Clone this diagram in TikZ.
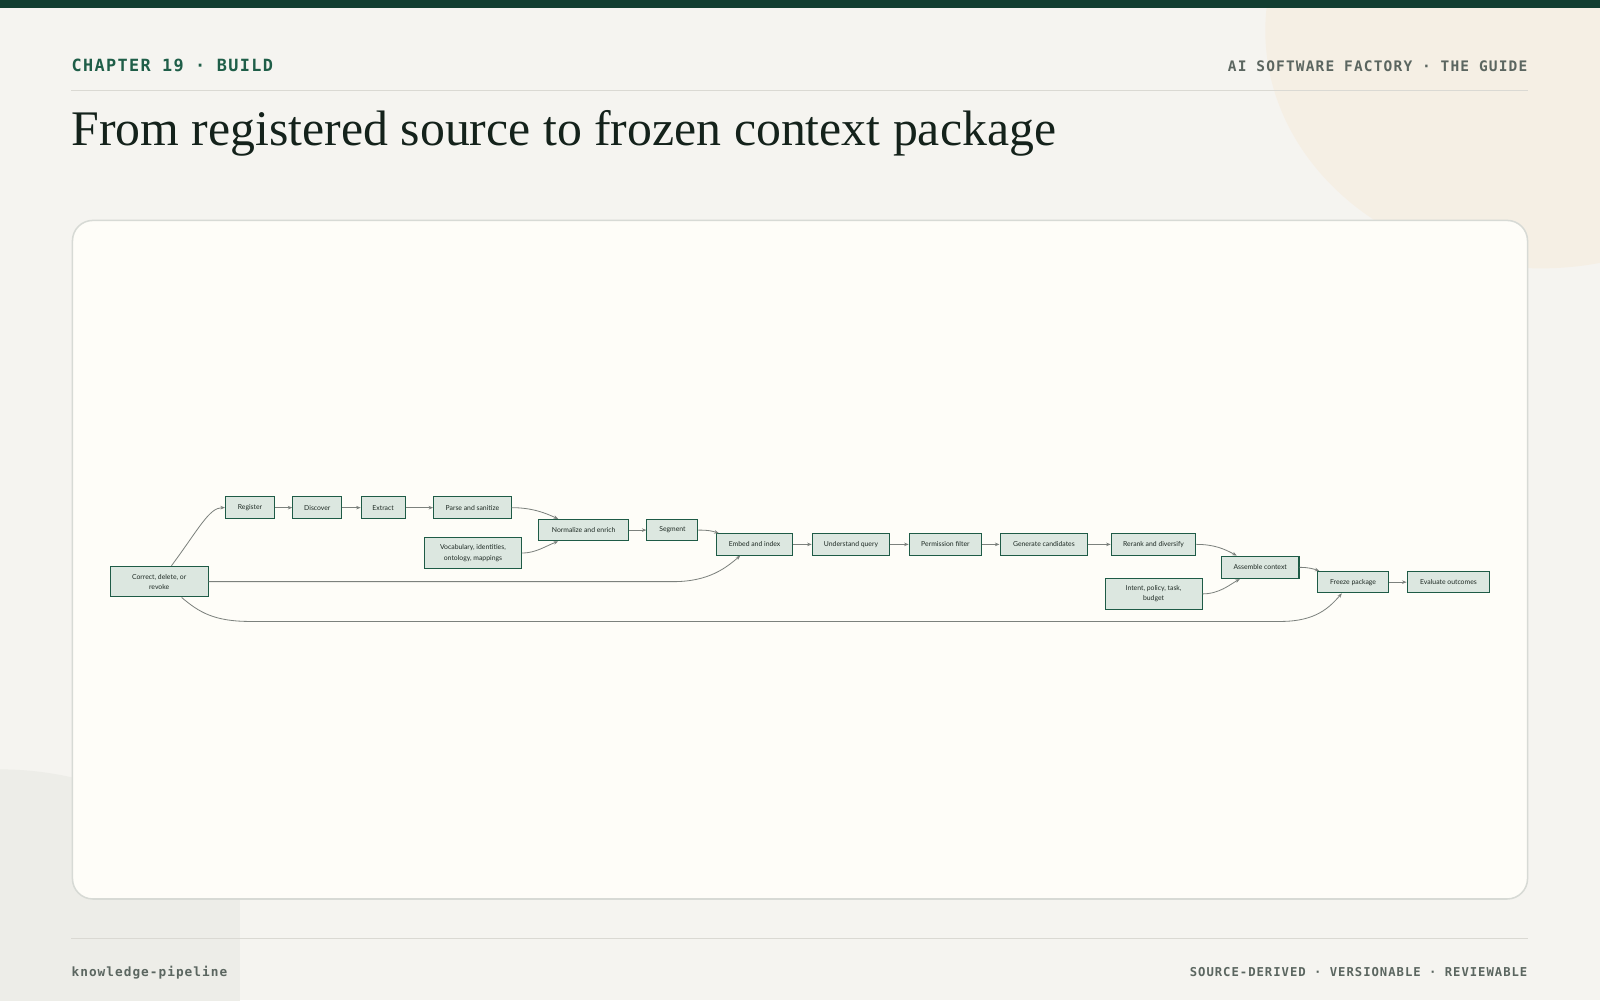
\documentclass[tikz,border=0pt]{standalone}
\usepackage{fontspec}
\usetikzlibrary{arrows.meta}
\newfontfamily\titlefont{Liberation Serif}
\newfontfamily\hdrfont{DejaVu Sans Mono}[LetterSpace=8]
\newfontfamily\boxfont{Lato}
\definecolor{pagebg}{HTML}{F5F4F0}
\definecolor{beigecol}{HTML}{F5EFE4}
\definecolor{blcol}{HTML}{EDEDE8}
\definecolor{topbar}{HTML}{123E31}
\definecolor{rulecol}{HTML}{DAD9D3}
\definecolor{cardfill}{HTML}{FEFDF8}
\definecolor{cardline}{HTML}{D7DAD5}
\definecolor{boxfill}{HTML}{DCE7E0}
\definecolor{boxline}{HTML}{1E5B46}
\definecolor{edgecol}{HTML}{7C817D}
\definecolor{titlecol}{HTML}{14221B}
\definecolor{chapcol}{HTML}{1F5E48}
\definecolor{graytext}{HTML}{5B6660}
\definecolor{boxtext}{HTML}{1E2A24}
\tikzset{
  stagebox/.style={draw=boxline, fill=boxfill, line width=1pt, inner sep=0pt,
    minimum height=21pt, align=center, text=boxtext,
    font=\boxfont\fontsize{6.7}{10}\selectfont},
  tallbox/.style={stagebox, minimum height=30pt},
  edge/.style={draw=edgecol, line width=0.8pt, -{Stealth[length=4.5pt,width=3.5pt]}},
  hdr/.style={inner sep=0pt, font=\hdrfont\bfseries},
}
\begin{document}
\begin{tikzpicture}[x=1pt,y=-1pt]
% background
\fill[pagebg] (0,0) rectangle (1568,980);
\useasboundingbox (0,0) rectangle (1568,980);
\fill[beigecol] (1510,30) ellipse [x radius=270pt, y radius=233pt];
\begin{scope}
  \clip (0,700) rectangle (235,980);
  \fill[blcol] (0,1071) circle[radius=317pt];
\end{scope}
\fill[topbar] (0,0) rectangle (1568,8);
\draw[rulecol, line width=1pt] (70,89) -- (1497,89);
\draw[rulecol, line width=1pt] (70,920) -- (1497,920);
% card
\draw[draw=cardline, fill=cardfill, line width=1.5pt, rounded corners=20pt] (71,216) rectangle (1497,881);
% header texts
\node[hdr, anchor=base west, text=chapcol, font=\hdrfont\bfseries\fontsize{16.5}{20}\selectfont] (chap) at (70,70.5) {CHAPTER 19 · BUILD};
\node[hdr, anchor=base east, text=graytext, font=\hdrfont\bfseries\fontsize{14.2}{18}\selectfont] (guide) at (1497,70.5) {AI SOFTWARE FACTORY · THE GUIDE};
\node[anchor=base west, inner sep=0pt, text=titlecol, font=\titlefont\fontsize{48.8}{58}\selectfont] (title) at (70,143) {From registered source to frozen context package};
\node[hdr, anchor=base west, text=graytext, font=\hdrfont\bfseries\fontsize{12.5}{16}\selectfont] (slug) at (70,956.5) {knowledge-pipeline};
\node[hdr, anchor=base east, text=graytext, font=\hdrfont\bfseries\fontsize{12}{16}\selectfont] (tags) at (1497,956.5) {SOURCE-DERIVED · VERSIONABLE · REVIEWABLE};
% nodes
\node[stagebox, minimum width=48pt] (reg) at (245,497.5) {Register};
\node[stagebox, minimum width=48pt] (disc) at (311,497.5) {Discover};
\node[stagebox, minimum width=43pt] (extr) at (375.5,497.5) {Extract};
\node[stagebox, minimum width=76pt] (parse) at (463,497.5) {Parse and sanitize};
\node[stagebox, minimum width=88pt] (norm) at (572,519.5) {Normalize and enrich};
\node[tallbox, minimum width=95pt] (vocab) at (463.5,542) {Vocabulary, identities,\\ontology, mappings};
\node[stagebox, minimum width=50pt] (seg) at (659,519.5) {Segment};
\node[stagebox, minimum width=75pt] (embed) at (739.5,533.5) {Embed and index};
\node[stagebox, minimum width=76pt] (uq) at (834,533.5) {Understand query};
\node[stagebox, minimum width=71pt] (perm) at (926.5,533.5) {Permission filter};
\node[stagebox, minimum width=86pt] (gen) at (1023,533.5) {Generate candidates};
\node[stagebox, minimum width=83pt] (rer) at (1130.5,533.5) {Rerank and diversify};
\node[stagebox, minimum width=76pt, minimum height=22pt] (asm) at (1235,556) {Assemble context};
\node[tallbox, minimum width=95pt] (intent) at (1130.5,582) {Intent, policy, task,\\budget};
\node[stagebox, minimum width=70pt] (frz) at (1326,570.5) {Freeze package};
\node[stagebox, minimum width=81pt] (eval) at (1419.5,570.5) {Evaluate outcomes};
\node[tallbox, minimum width=96pt] (corr) at (156,570) {Correct, delete, or\\revoke};
% edges
\draw[edge] (reg.east) -- (disc.west);
\draw[edge] (disc.east) -- (extr.west);
\draw[edge] (extr.east) -- (parse.west);
\draw[edge] (norm.east) -- (seg.west);
\draw[edge] (embed.east) -- (uq.west);
\draw[edge] (uq.east) -- (perm.west);
\draw[edge] (perm.east) -- (gen.west);
\draw[edge] (gen.east) -- (rer.west);
\draw[edge] (frz.east) -- (eval.west);
\draw[edge] ([xshift=12pt]corr.north) .. controls (195,518) and (205,497.5) .. (reg.west);
\draw[edge] (parse.east) .. controls (522,497.5) and (535,503) .. ([xshift=-25pt]norm.north);
\draw[edge] (vocab.east) .. controls (525,542) and (535,535) .. ([xshift=-25pt]norm.south);
\draw[edge] (seg.east) .. controls (695,519.5) and (698,520.5) .. ([xshift=-35pt]embed.north);
\coordinate (lowA) at (660,570);
\draw[edge] (corr.east) -- (lowA) .. controls (695,570) and (712,556) .. ([xshift=-14pt]embed.south);
\draw[edge] (rer.east) .. controls (1190,533.5) and (1200,538) .. ([xshift=-23pt]asm.north);
\draw[edge] (intent.east) .. controls (1195,582) and (1205,573) .. ([xshift=-20pt]asm.south);
\draw[edge] (asm.east) .. controls (1283,556) and (1287,557.5) .. ([xshift=-33pt]frz.north);
\coordinate (lowB) at (245,609);
\coordinate (lowC) at (1255,609);
\draw[edge] ([xshift=22pt]corr.south) .. controls (195,600) and (210,609) .. (lowB) -- (lowC) .. controls (1290,609) and (1303,595) .. ([xshift=-11pt]frz.south);
\end{tikzpicture}
\end{document}
